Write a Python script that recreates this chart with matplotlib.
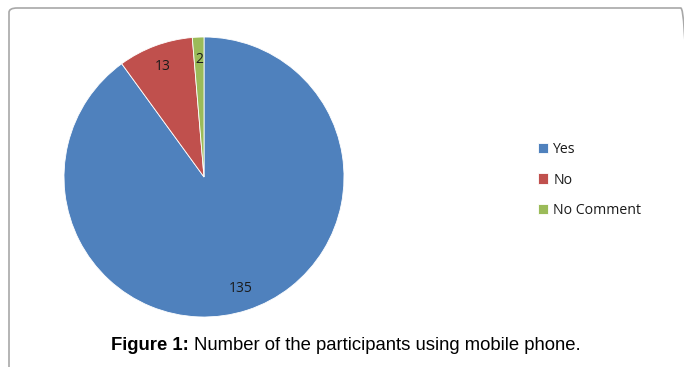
import matplotlib
matplotlib.use('Agg')
import matplotlib.pyplot as plt
from matplotlib.patches import FancyBboxPatch

# 数据
labels = ['Yes', 'No', 'No Comment']
counts = [135, 13, 2]
colors = ['#4F81BD', '#C0504D', '#9BBB59']

W, H = 684, 367
fig = plt.figure(figsize=(W / 100, H / 100), dpi=100)

# 外框 (只露出上边和左边)
frame = FancyBboxPatch((9 / W, 1 - 380 / H), 680 / W, 372 / H,
                       boxstyle='round,pad=0,rounding_size=0.012',
                       transform=fig.transFigure, fill=False,
                       edgecolor='#a8a8a8', linewidth=1.2)
fig.patches.append(frame)

# 饼图
ax = fig.add_axes([64 / W, (H - 317) / H, 280 / W, 280 / H])
total = sum(counts)
wedges, _, autotexts = ax.pie(counts, colors=colors, startangle=90, counterclock=False,
                              autopct=lambda p: f'{round(p * total / 100)}',
                              pctdistance=0.84,
                              wedgeprops=dict(linewidth=0.6, edgecolor='white'),
                              textprops=dict(fontsize=10, family='Open Sans', color='#1a1a1a'))
ax.set_xlim(-1, 1)
ax.set_ylim(-1, 1)
ax.set_aspect('equal')

# 图例
leg = fig.legend(wedges, labels, loc='center left', bbox_to_anchor=(525 / W, 1 - 180 / H),
                 frameon=False, handlelength=0.75, handleheight=0.75, handletextpad=0.35,
                 labelspacing=1.1, prop=dict(family='Open Sans', size=10.2))
for t in leg.get_texts():
    t.set_color('#1a1a1a')

# 标题
fig.text(111 / W, 1 - 345 / H, 'Figure 1:', ha='left', va='center',
         fontsize=13.3, fontweight='bold', family='Liberation Sans')
fig.text(194 / W, 1 - 345 / H, 'Number of the participants using mobile phone.', ha='left',
         va='center', fontsize=13.3, family='Liberation Sans')

fig.savefig('out.png', dpi=100)
